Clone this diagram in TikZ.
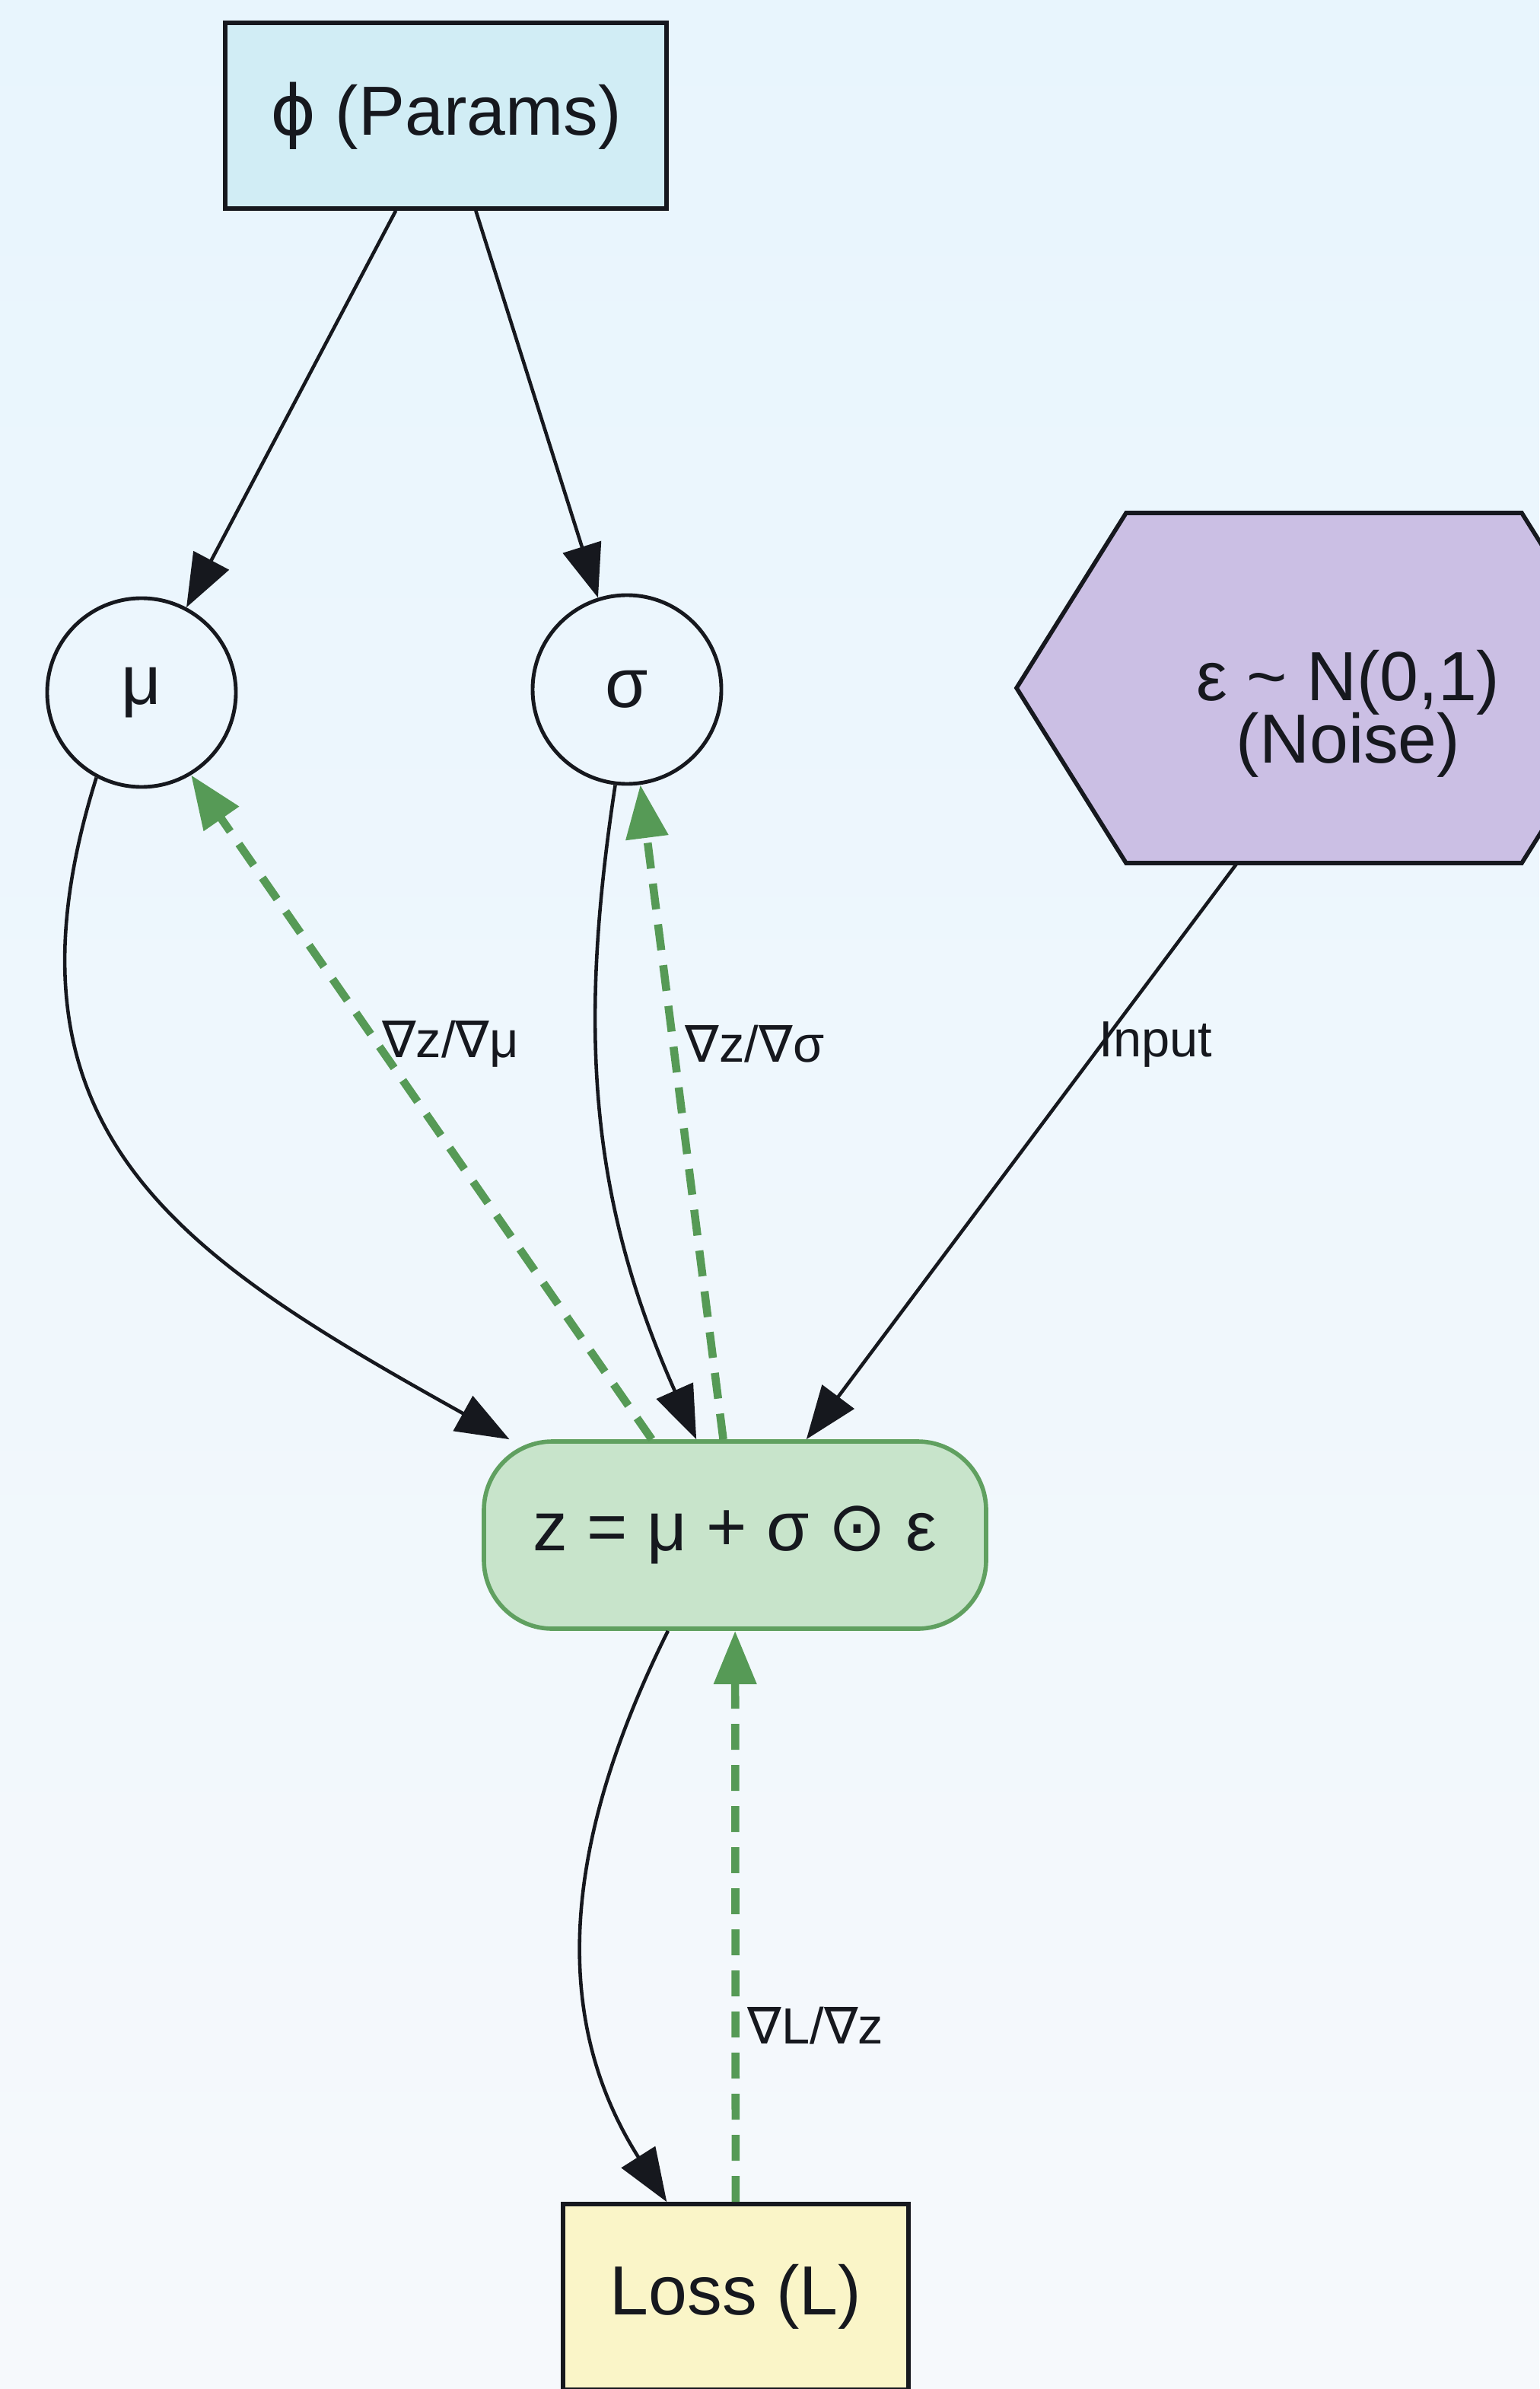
\documentclass[tikz,border=0pt]{standalone}
\usepackage{fontspec}
\setmainfont{Liberation Sans}
\newfontfamily\symfont{DejaVu Sans}
\usetikzlibrary{arrows.meta}
\usetikzlibrary{calc}

\definecolor{bgtop}{RGB}{232,245,253}
\definecolor{bgbot}{RGB}{246,249,252}
\definecolor{paramfill}{RGB}{209,237,245}
\definecolor{noisefill}{RGB}{203,191,228}
\definecolor{zfill}{RGB}{200,228,203}
\definecolor{zedge}{RGB}{96,160,96}
\definecolor{lossfill}{RGB}{250,245,200}
\definecolor{gradgreen}{RGB}{86,154,86}
\definecolor{ink}{RGB}{22,24,30}

\newcommand{\nab}{{\symfont ∇}}
\newcommand{\odotsym}{{\symfont ⊙}}
\newcommand{\phisym}{{\symfont ϕ}}

\begin{document}
\begin{tikzpicture}[
    every node/.style={text=ink},
    nodefont/.style={font=\fontsize{26}{30}\selectfont},
    lbl/.style={font=\fontsize{19}{23}\selectfont},
    box/.style={nodefont, draw=ink, line width=1.6pt, minimum height=2.44cm},
    var/.style={nodefont, circle, draw=ink, line width=1.4pt, minimum size=2.48cm},
    fwd/.style={draw=ink, line width=1.3pt, -{Triangle[length=0.70cm,width=0.52cm]}},
    grad/.style={draw=gradgreen, line width=3pt, dash pattern=on 0.34cm off 0.20cm, -{Triangle[length=0.70cm,width=0.54cm]}}
  ]
  % page and background
  \shade[top color=bgtop, bottom color=bgbot] (0,0) rectangle (20.23,-31.39);
  \useasboundingbox (0,0) rectangle (20.23,-31.39);

  % nodes
  \node[box, fill=paramfill, minimum width=5.80cm] (params) at (5.86,-1.52) {\phisym{} (Params)};
  \node[var] (mu) at (1.86,-9.10) {μ};
  \node[var] (sigma) at (8.24,-9.06) {σ};
  \coordinate (nc) at (17.72,-9.04);
  \filldraw[fill=noisefill, draw=ink, line width=1.6pt]
    ($(nc)+(-4.36,0)$) -- ($(nc)+(-2.92,2.30)$) -- ($(nc)+(2.28,2.30)$)
    -- ($(nc)+(3.72,0)$) -- ($(nc)+(2.28,-2.30)$) -- ($(nc)+(-2.92,-2.30)$) -- cycle;
  \node[font={\fontsize{26}{23.5}\selectfont\lineskiplimit=-30pt}, align=center, inner sep=0pt, minimum width=4.36cm, minimum height=3.92cm] (noise) at (17.72,-9.38) {ε \textasciitilde{} N(0,1)\\(Noise)};
  \node[box, draw=zedge, fill=zfill, rounded corners=0.9cm, minimum width=6.60cm, minimum height=2.46cm] (z) at (9.66,-20.17) {z = μ + σ \odotsym{} ε};
  \node[box, fill=lossfill, minimum width=4.54cm] (loss) at (9.67,-30.18) {Loss (L)};

  % forward edges
  \draw[fwd] (params) -- (mu);
  \draw[fwd] (params) -- (sigma);
  \draw[fwd] (mu.242) .. controls (-0.2,-14.9) and (2.41,-16.52) .. (z.157);
  \draw[fwd] (sigma.263) .. controls (7.6,-13.5) and (7.74,-15.74) .. (z.112);
  \draw[fwd] (noise) -- (z);
  \draw[fwd] (z.235) .. controls (7.46,-24.08) and (7.17,-26.42) .. (loss.126);

  % gradient edges
  \draw[grad] (z.131) -- (mu.301);
  \draw[grad] (z.97) -- (sigma.278);
  \draw[grad] (loss) -- (z);

  % edge labels
  \node[lbl] (dzdmu) at (5.92,-13.72) {\nab z/\nab μ};
  \node[lbl] (dzdsig) at (9.92,-13.72) {\nab z/\nab σ};
  \node[lbl] (inlbl) at (15.19,-13.72) {Input};
  \node[lbl] (dldz) at (10.72,-26.62) {\nab L/\nab z};
\end{tikzpicture}
\end{document}
